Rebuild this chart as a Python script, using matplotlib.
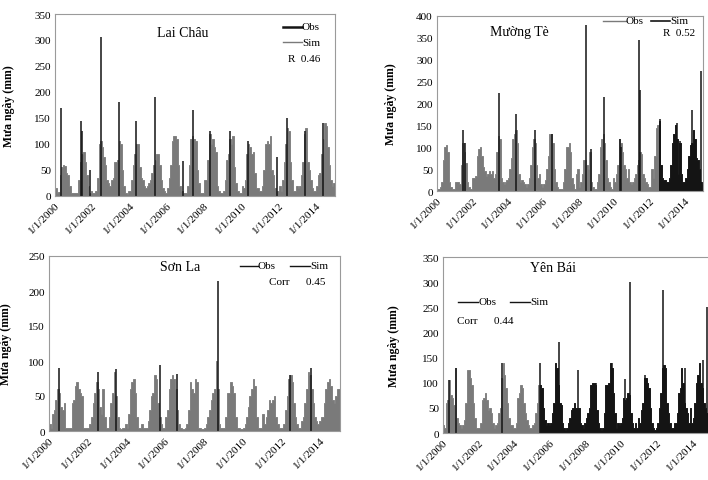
import numpy as np
import matplotlib
matplotlib.use("Agg")
import matplotlib.pyplot as plt

plt.rcParams['font.family'] = ['Liberation Serif', 'DejaVu Serif']

years = list(range(2000, 2015))
tick_years = [2000, 2002, 2004, 2006, 2008, 2010, 2012, 2014]
tick_labels = ["1/1/%d" % y for y in tick_years]

# ---- Lai Chau: monthly simulated envelope (mm), Jan..Dec per year
laichau_sim = [
    [15, 5, 8, 40, 55, 60, 58, 45, 40, 20, 5, 5],
    [5, 5, 5, 30, 65, 80, 85, 65, 40, 20, 5, 10],
    [5, 5, 10, 35, 100, 105, 95, 75, 60, 30, 25, 20],
    [30, 35, 65, 65, 70, 105, 100, 50, 20, 5, 3, 10],
    [10, 30, 60, 80, 100, 100, 55, 35, 30, 20, 15, 20],
    [25, 30, 45, 60, 70, 80, 80, 60, 30, 15, 10, 5],
    [15, 35, 60, 105, 115, 115, 110, 60, 20, 10, 5, 5],
    [5, 20, 60, 110, 115, 110, 105, 50, 25, 5, 5, 5],
    [30, 30, 70, 120, 100, 110, 95, 85, 20, 10, 5, 5],
    [10, 30, 70, 80, 110, 100, 115, 55, 25, 10, 5, 5],
    [20, 15, 30, 80, 100, 95, 80, 85, 45, 15, 15, 10],
    [10, 20, 50, 100, 105, 100, 115, 50, 40, 15, 10, 10],
    [20, 10, 30, 65, 100, 130, 125, 65, 30, 10, 10, 20],
    [15, 20, 40, 65, 120, 130, 65, 50, 30, 15, 10, 10],
    [20, 40, 45, 80, 110, 140, 135, 95, 60, 30, 20, 25],
]
laichau_obs_t = [2000.33, 2001.38, 2001.45, 2001.88, 2002.45, 2003.42, 2004.33, 2005.38,
                 2006.88, 2007.38, 2008.30, 2009.40, 2010.35, 2011.90, 2012.45, 2013.40, 2014.38]
laichau_obs_v = [170, 145, 125, 50, 305, 180, 145, 190, 68, 165, 125, 125, 105, 75, 150, 125, 140]

# ---- Muong Te
muongte_sim = [
    [5, 5, 10, 20, 70, 100, 105, 90, 20, 10, 5, 5],
    [20, 20, 20, 15, 60, 110, 90, 65, 20, 10, 5, 5],
    [30, 30, 35, 80, 95, 100, 80, 55, 45, 35, 40, 45],
    [40, 45, 30, 40, 90, 125, 120, 30, 20, 15, 20, 25],
    [30, 50, 75, 120, 130, 140, 110, 40, 20, 25, 20, 15],
    [10, 15, 30, 60, 100, 120, 110, 60, 30, 40, 15, 10],
    [15, 25, 50, 80, 130, 130, 110, 50, 20, 10, 5, 5],
    [5, 20, 50, 100, 100, 110, 90, 30, 15, 5, 40, 50],
    [10, 20, 40, 70, 70, 60, 50, 90, 20, 10, 5, 5],
    [20, 40, 100, 120, 130, 110, 70, 30, 20, 10, 5, 30],
    [20, 40, 60, 120, 110, 90, 60, 50, 30, 50, 20, 15],
    [20, 30, 40, 60, 70, 90, 85, 40, 30, 20, 15, 10],
    [10, 50, 30, 80, 145, 150, 160, 60, 30, 25, 25, 20],
    [20, 30, 60, 110, 130, 150, 120, 40, 110, 40, 20, 20],
    [30, 50, 80, 105, 110, 140, 120, 75, 70, 50, 20, 15],
]
muongte_obs_t = [2001.45, 2001.60, 2003.50, 2004.45, 2005.50, 2006.50, 2008.40, 2008.70, 2009.40,
                 2010.30, 2010.40, 2011.40, 2011.45, 2012.55, 2013.55, 2013.70, 2014.40, 2014.88]
muongte_obs_v = [140, 110, 225, 175, 140, 130, 380, 95, 215, 120, 100, 345, 230, 165, 155, 115, 185, 275]

# ---- Son La
sonla_sim = [
    [10, 5, 25, 30, 45, 60, 55, 35, 30, 40, 5, 5],
    [5, 5, 40, 45, 65, 70, 60, 55, 50, 5, 5, 5],
    [5, 10, 20, 40, 55, 70, 60, 35, 25, 60, 20, 5],
    [5, 20, 40, 55, 85, 50, 20, 5, 3, 5, 5, 10],
    [5, 25, 60, 70, 75, 55, 20, 5, 5, 10, 5, 5],
    [5, 15, 30, 50, 55, 80, 75, 40, 20, 10, 5, 5],
    [20, 30, 60, 75, 80, 75, 60, 30, 10, 5, 3, 3],
    [5, 10, 30, 70, 60, 55, 75, 70, 5, 5, 3, 3],
    [5, 10, 20, 30, 45, 55, 60, 100, 60, 10, 5, 5],
    [5, 20, 55, 55, 70, 65, 55, 20, 5, 5, 3, 3],
    [5, 10, 20, 35, 50, 60, 75, 65, 20, 5, 5, 5],
    [25, 10, 20, 30, 45, 40, 45, 50, 20, 10, 5, 5],
    [5, 10, 30, 50, 75, 80, 70, 40, 20, 10, 5, 5],
    [15, 20, 40, 60, 85, 80, 60, 40, 20, 15, 10, 15],
    [20, 20, 40, 60, 70, 75, 65, 45, 40, 50, 60, 60],
]
sonla_obs_t = [2000.50, 2002.50, 2003.45, 2005.70, 2006.60, 2008.70, 2012.40, 2013.50]
sonla_obs_v = [90, 85, 88, 95, 82, 215, 80, 90]

# ---- Yen Bai
yenbai_sim = [
    [15, 10, 60, 65, 105, 75, 70, 55, 130, 30, 20, 15],
    [10, 15, 25, 60, 125, 125, 110, 95, 60, 30, 10, 10],
    [10, 20, 65, 70, 80, 65, 45, 50, 40, 20, 10, 15],
    [20, 40, 50, 110, 140, 115, 90, 60, 30, 15, 15, 10],
    [10, 20, 70, 80, 95, 90, 60, 40, 25, 15, 10, 10],
    [15, 20, 40, 60, 95, 95, 90, 50, 25, 15, 20, 15],
    [20, 40, 60, 140, 130, 95, 60, 55, 20, 10, 5, 10],
    [20, 30, 45, 50, 60, 50, 45, 50, 20, 15, 10, 20],
    [30, 40, 50, 95, 100, 100, 95, 45, 20, 10, 5, 10],
    [40, 95, 95, 100, 140, 130, 80, 40, 10, 20, 15, 20],
    [30, 70, 65, 70, 80, 75, 40, 20, 10, 20, 10, 30],
    [20, 45, 60, 110, 110, 100, 90, 50, 20, 10, 5, 10],
    [20, 50, 80, 130, 135, 130, 60, 40, 20, 10, 10, 20],
    [20, 40, 80, 90, 130, 100, 60, 50, 40, 20, 50, 20],
    [30, 60, 100, 115, 140, 100, 90, 60, 50, 40, 35, 30],
]
yenbai_obs_t = [2000.34, 2000.75, 2003.33, 2005.42, 2006.50, 2007.57, 2008.59, 2009.47,
                2010.18, 2010.50, 2011.30, 2012.33, 2013.55, 2014.58, 2014.80]
yenbai_obs_v = [105, 130, 140, 140, 180, 125, 100, 140, 108, 300, 115, 285, 130, 145, 250]

GRAY = '#7a7a7a'
DARK = '#141414'


def draw(ax, sim, obs_t, obs_v, ymax, ystep, dark_from=None):
    vals = np.array(sim, dtype=float).ravel()
    t = np.array([y + m / 12.0 for y in years for m in range(12)] + [2015.0])
    v = np.append(vals, vals[-1])
    ax.fill_between(t, 0, v, step='post', color=GRAY, linewidth=0.6, edgecolor=GRAY)
    if dark_from is not None:
        mask = t >= dark_from - 1e-9
        ax.fill_between(t, 0, v, where=mask, step='post', color=DARK, linewidth=0.6,
                        edgecolor=DARK)
    ax.vlines(obs_t, 0, obs_v, colors=DARK, linewidth=1.1)
    ax.set_xlim(2000, 2015)
    ax.set_ylim(0, ymax)
    ax.set_yticks(np.arange(0, ymax + 1, ystep))
    ax.set_xticks(tick_years)
    ax.set_xticklabels(tick_labels, rotation=45, ha='right', rotation_mode='anchor')
    ax.tick_params(length=0, labelsize=8, pad=3)
    for s in ax.spines.values():
        s.set_color('#9a9a9a')
        s.set_linewidth(0.8)


fig = plt.figure(figsize=(7.08, 4.81), dpi=100)
W, H = 708.0, 481.0


def axes_px(l, r, t, b):
    return fig.add_axes([l / W, 1 - b / H, (r - l) / W, (b - t) / H])


ax1 = axes_px(55, 335, 15, 197)
draw(ax1, laichau_sim, laichau_obs_t, laichau_obs_v, 350, 50)
ax2 = axes_px(437, 703, 17, 192)
draw(ax2, muongte_sim, muongte_obs_t, muongte_obs_v, 400, 50, dark_from=2012.5)
ax3 = axes_px(49, 340, 257, 432)
draw(ax3, sonla_sim, sonla_obs_t, sonla_obs_v, 250, 50)
ax4 = axes_px(443, 710.75, 258, 434)
draw(ax4, yenbai_sim, yenbai_obs_t, yenbai_obs_v, 350, 50, dark_from=2005.4)
ax4.spines['right'].set_visible(False)

ylab = "Mưa ngày (mm)"
for ax, x in [(ax1, 15), (ax2, 397), (ax3, 12), (ax4, 400)]:
    ax.set_ylabel(ylab, fontsize=8.5, fontweight='bold')
    bb = ax.get_position()
    ax.yaxis.set_label_coords((x / W - bb.x0) / bb.width, 0.5)

# station names
ax1.text(0.457, 0.90, "Lai Châu", transform=ax1.transAxes, ha='center', va='center', fontsize=10)
ax2.text(0.31, 0.91, "Mường Tè", transform=ax2.transAxes, ha='center', va='center', fontsize=10)
ax3.text(0.45, 0.94, "Sơn La", transform=ax3.transAxes, ha='center', va='center', fontsize=10)
ax4.text(0.41, 0.94, "Yên Bái", transform=ax4.transAxes, ha='center', va='center', fontsize=10)


def leg_item(x0, x1, y, color, lw, label):
    fig.add_artist(plt.Line2D([x0 / W, x1 / W], [1 - y / H, 1 - y / H], color=color, lw=lw))
    fig.text(x1 / W, 1 - y / H, label, ha='left', va='center', fontsize=8)


# Lai Chau legend
leg_item(283, 302, 28, DARK, 1.8, "Obs")
leg_item(283, 302, 43, GRAY, 1.0, "Sim")
fig.text(288 / W, 1 - 59 / H, "R  0.46", ha='left', va='center', fontsize=8)
# Muong Te legend
leg_item(603, 626, 22, GRAY, 1.0, "Obs")
leg_item(651, 670, 22, DARK, 1.2, "Sim")
fig.text(663 / W, 1 - 34 / H, "R  0.52", ha='left', va='center', fontsize=8)
# Son La legend
leg_item(240, 258, 267, DARK, 1.0, "Obs")
leg_item(290, 310, 267, DARK, 1.0, "Sim")
fig.text(269 / W, 1 - 283 / H, "Corr      0.45", ha='left', va='center', fontsize=8)
# Yen Bai legend
leg_item(458, 478, 303, DARK, 1.0, "Obs")
leg_item(510, 530, 303, DARK, 1.0, "Sim")
fig.text(457 / W, 1 - 322 / H, "Corr      0.44", ha='left', va='center', fontsize=8)

fig.savefig("out.png", dpi=100, facecolor='white')
